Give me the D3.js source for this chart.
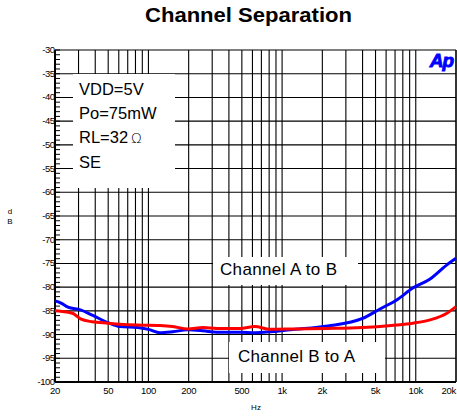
<!DOCTYPE html>
<html><head><meta charset="utf-8">
<script src="https://cdn.jsdelivr.net/npm/d3@7"></script>
<style>body{margin:0;background:#fff}svg{display:block;font-family:"Liberation Sans",Arial,Helvetica,sans-serif}</style>
</head><body><svg id="c" width="457" height="416"></svg>
<script>
// ---- data ----
const freqTicks = [20, 50, 100, 200, 500, 1000, 2000, 5000, 10000, 20000];
const freqTickLabels = ["20", "50", "100", "200", "500", "1k", "2k", "5k", "10k", "20k"];
const dbTicks = [-30, -35, -40, -45, -50, -55, -60, -65, -70, -75, -80, -85, -90, -95, -100];
const freqAB = [20, 22, 25, 31, 38, 50, 61, 83, 100, 122, 152, 197, 256, 325, 484, 626, 1250, 2200, 4000, 5400, 7200, 9500, 12800, 17100, 20000];
const dbAB   = [-82.9, -83.3, -84.2, -84.8, -85.9, -87.5, -88.3, -88.5, -88.9, -89.6, -89.4, -89.0, -89.2, -89.5, -89.5, -89.6, -88.9, -88.2, -86.6, -84.6, -82.7, -80.2, -78.3, -75.3, -73.9];
const freqBA = [20, 22, 27, 31, 38, 50, 61, 83, 122, 152, 197, 256, 325, 484, 626, 813, 1250, 2200, 4000, 5400, 7200, 9500, 12800, 17100, 20000];
const dbBA   = [-85.0, -85.1, -85.5, -86.7, -87.3, -87.6, -87.8, -88.0, -88.1, -88.3, -88.8, -88.5, -88.7, -88.7, -88.3, -88.9, -88.8, -88.7, -88.5, -88.3, -88.0, -87.6, -86.9, -85.5, -84.1];
const notes = ["VDD=5V", "Po=75mW", "RL=32", "SE"];
const seriesNames = ["Channel A to B", "Channel B to A"];

// ---- layout ----
const W = 457, H = 416;
const m = {l: 55, t: 50, r: 1, b: 34};
const svg = d3.select("#c");
const x = d3.scaleLog().domain([20, 20000]).range([m.l, W - m.r]);
const y = d3.scaleLinear().domain([-30, -100]).range([m.t, H - m.b]);

// title
svg.append("text").attr("x", 248.5).attr("y", 22).attr("text-anchor", "middle")
  .attr("font-size", 19.5).attr("font-weight", "bold").attr("textLength", 207)
  .attr("lengthAdjust", "spacingAndGlyphs").text("Channel Separation");

// grid
const gridF = [];
for (let d = 10; d <= 10000; d *= 10) for (let k = 1; k <= 9; k++) { const f = k * d; if (f >= 20 && f <= 20000) gridF.push(f); }
gridF.push(20000);
const g = svg.append("g");
g.selectAll("line.v").data(gridF).join("line")
  .attr("x1", d => x(d)).attr("x2", d => x(d)).attr("y1", y(-30)).attr("y2", y(-100))
  .attr("stroke", "#000").attr("stroke-width", 1.1);
g.selectAll("line.h").data(dbTicks).join("line")
  .attr("x1", x(20)).attr("x2", x(20000)).attr("y1", d => y(d)).attr("y2", d => y(d))
  .attr("stroke", "#000").attr("stroke-width", 1.1);

// minor ticks on left axis
const minor = d3.range(-30, -101, -1);
g.selectAll("line.m").data(minor).join("line")
  .attr("x1", x(20)).attr("x2", x(20) + 5).attr("y1", d => y(d)).attr("y2", d => y(d))
  .attr("stroke", "#000").attr("stroke-width", 1);

// axes frame
svg.append("line").attr("x1", x(20)).attr("x2", x(20)).attr("y1", y(-30)).attr("y2", y(-100)).attr("stroke", "#000").attr("stroke-width", 2);
svg.append("line").attr("x1", x(20)).attr("x2", x(20000)).attr("y1", y(-100)).attr("y2", y(-100)).attr("stroke", "#000").attr("stroke-width", 2);

// tick labels
svg.selectAll("text.yl").data(dbTicks).join("text")
  .attr("x", x(20) - 0.5).attr("y", d => y(d) + 3).attr("text-anchor", "end")
  .attr("font-size", 9.5).attr("letter-spacing", -0.5).text(d => d);
svg.selectAll("text.xl").data(freqTicks).join("text")
  .attr("x", d => x(d))
  .attr("y", y(-100) + 12).attr("text-anchor", (d, i) => i === freqTicks.length - 1 ? "end" : "middle")
  .attr("font-size", 9.5).attr("letter-spacing", -0.3).text((d, i) => freqTickLabels[i]);

// axis titles
svg.append("text").attr("x", 10).attr("y", 214).attr("text-anchor", "middle").attr("font-size", 8).text("d");
svg.append("text").attr("x", 10).attr("y", 224).attr("text-anchor", "middle").attr("font-size", 8).text("B");
svg.append("text").attr("x", 256).attr("y", 410).attr("text-anchor", "middle").attr("font-size", 8).text("Hz");

// annotation boxes
svg.append("rect").attr("x", 73).attr("y", 74).attr("width", 102).attr("height", 114).attr("fill", "#fff");
const baselines = [95, 119, 143, 168];
notes.forEach((t, i) => {
  const tx = svg.append("text").attr("x", 79).attr("y", baselines[i]).attr("font-size", 16.5).text(t);
  if (i === 2) tx.append("tspan").attr("dx", 3).attr("font-family", "DejaVu Sans").attr("font-weight", 200).attr("font-size", 14).text("Ω");
});
svg.append("rect").attr("x", 213).attr("y", 257).attr("width", 145).attr("height", 28).attr("fill", "#fff");
svg.append("text").attr("x", 220).attr("y", 275).attr("font-size", 17).attr("textLength", 117).text(seriesNames[0]);
svg.append("rect").attr("x", 229).attr("y", 342).attr("width", 156).attr("height", 31).attr("fill", "#fff");
svg.append("text").attr("x", 238).attr("y", 362).attr("font-size", 17).attr("textLength", 117).text(seriesNames[1]);

// curves
const line = d3.line().x(d => x(d[0])).y(d => y(d[1])).curve(d3.curveMonotoneX);
svg.append("path").datum(freqAB.map((f, i) => [f, dbAB[i]])).attr("d", line)
  .attr("fill", "none").attr("stroke", "#0000ff").attr("stroke-width", 3);
svg.append("path").datum(freqBA.map((f, i) => [f, dbBA[i]])).attr("d", line)
  .attr("fill", "none").attr("stroke", "#ff0000").attr("stroke-width", 3);

// Ap logo
svg.append("text").attr("x", 453).attr("y", 67).attr("text-anchor", "end")
  .attr("font-size", 19).attr("font-weight", "bold").attr("font-style", "italic")
  .attr("fill", "#0000ff").attr("stroke", "#0000ff").attr("stroke-width", 0.9)
  .attr("letter-spacing", -1).text("Ap");
</script></body></html>
